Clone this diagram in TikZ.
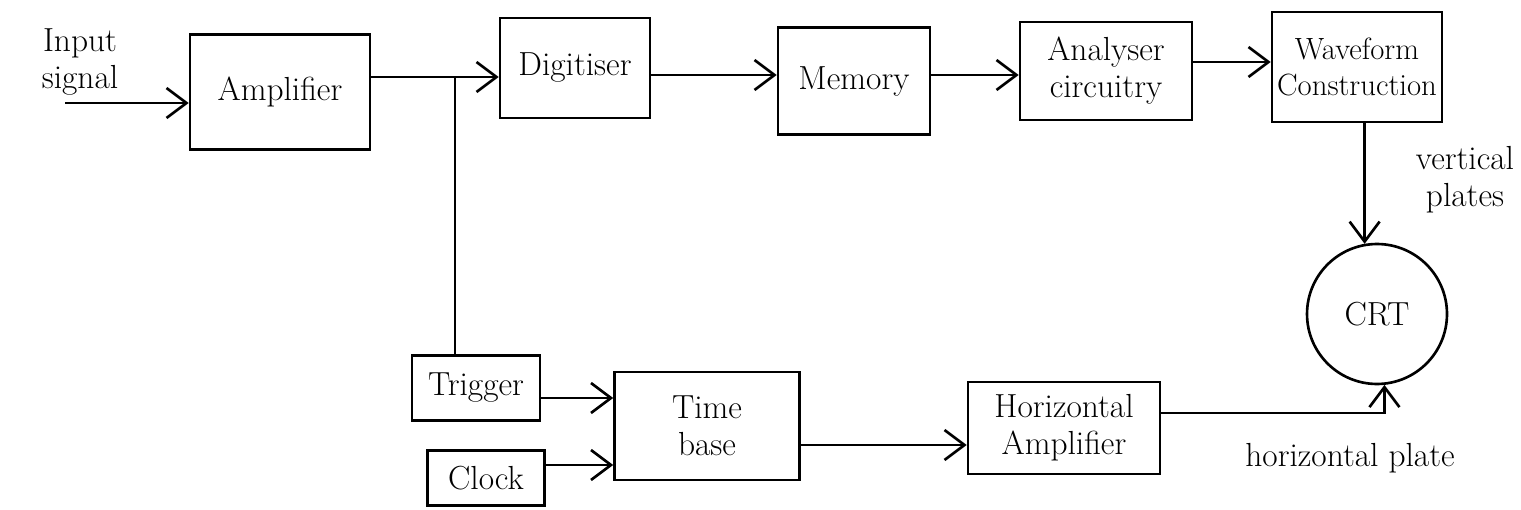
\documentclass[tikz,border=0pt]{standalone}
\usetikzlibrary{arrows.meta}
\begin{document}
\begin{tikzpicture}[x=0.02cm,y=-0.02cm,
  every node/.style={font=\fontsize{19}{21}\selectfont},
  blk/.style={draw,line width=1.5pt,inner sep=0pt,align=center},
  lbl/.style={align=center,inner sep=0pt},
  conn/.style={line width=1.5pt,-{Straight Barb[length=4mm,width=6mm]}},
  wire/.style={line width=1.5pt}]
\useasboundingbox (0,0) rectangle (1521,510);
% blocks
\node[blk,minimum width=3.6cm,minimum height=2.3cm] (amp) at (280,92) {Amplifier};
\node[blk,minimum width=3.0cm,minimum height=2.0cm] (dig) at (575,68) {Digitiser};
\node[blk,minimum width=3.04cm,minimum height=2.14cm] (mem) at (854,81) {Memory};
\node[blk,minimum width=3.44cm,minimum height=1.96cm] (ana) at (1106,71) {Analyser\\circuitry};
\node[blk,minimum width=3.4cm,minimum height=2.2cm,font=\fontsize{17.5}{20}\selectfont] (wav) at (1357,67) {Waveform\\Construction};
\node[blk,circle,minimum size=2.8cm] (crt) at (1377,314) {CRT};
\node[blk,minimum width=2.56cm,minimum height=1.3cm] (trig) at (476,388) {Trigger};
\node[blk,minimum width=2.34cm,minimum height=1.1cm] (clk) at (486,478) {Clock};
\node[blk,minimum width=3.7cm,minimum height=2.16cm] (tb) at (707,426) {Time\\base};
\node[blk,minimum width=3.84cm,minimum height=1.84cm] (ha) at (1064,428) {Horizontal\\Amplifier};
% labels
\node[lbl] (inlbl) at (80,62) {Input\\signal};
\node[lbl] (vlbl) at (1465,180) {vertical\\plates};
\node[lbl] (hlbl) at (1350,458) {horizontal plate};
% connectors
\coordinate (in) at (65,103);
\coordinate (br) at (455,77);
\draw[conn] (in) -- (in -| amp.west);
\draw[conn] (amp.east |- br) -- (dig.west |- br);
\draw[wire] (br) -- (br |- trig.north);
\draw[conn] (dig.east |- 0,75) -- (mem.west |- 0,75);
\draw[conn] (mem.east |- 0,75) -- (ana.west |- 0,75);
\draw[conn] (ana.east |- 0,62) -- (wav.west |- 0,62);
\draw[conn] (wav.south -| crt.100) -- (crt.100);
\draw[conn] (trig.east |- 0,398) -- (tb.west |- 0,398);
\draw[conn] (clk.east |- 0,465) -- (tb.west |- 0,465);
\draw[conn] (tb.east |- 0,445) -- (ha.west |- 0,445);
\draw[conn] (ha.east |- 0,413) -- (crt.-84 |- 0,413) -- (crt.-84);
\end{tikzpicture}
\end{document}
